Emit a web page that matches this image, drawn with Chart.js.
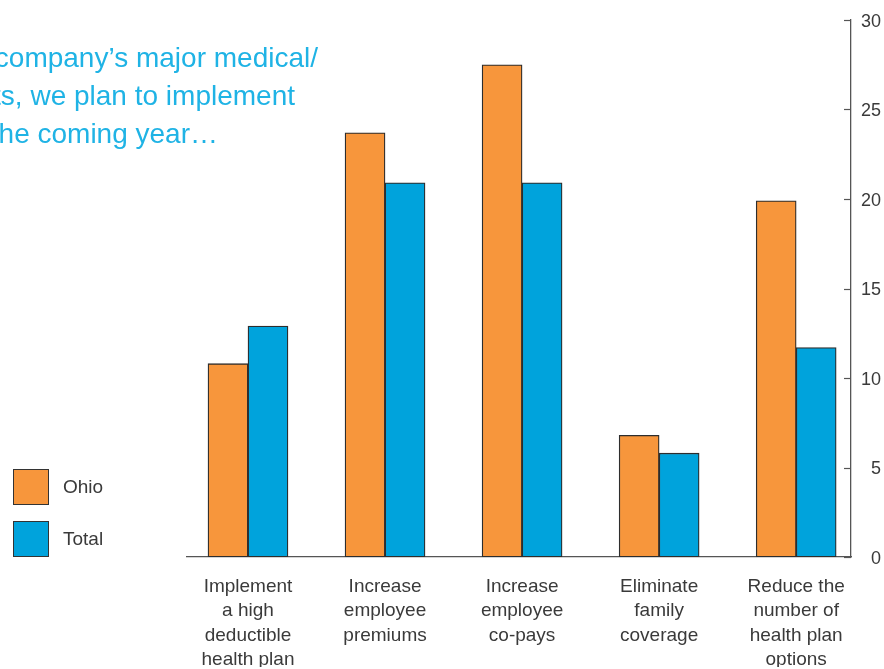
<!DOCTYPE html>
<html>
<head>
<meta charset="utf-8">
<script src="https://cdn.jsdelivr.net/npm/chart.js@4"></script>
<style>
  html, body { margin: 0; padding: 0; background: #fff; overflow: hidden; }
  #wrap { position: relative; width: 884px; height: 669px; }
  canvas { position: absolute; left: 0; top: 0; }
  .title-line {
    position: absolute; white-space: nowrap; text-align: right;
    font-family: "Liberation Sans", Arial, sans-serif; font-size: 28px;
    color: #1fb3e5; line-height: 38px;
  }
  .legend-item { position: absolute; left: 13px; height: 36px; }
  .legend-item .sw {
    position: absolute; left: 0; top: 0; width: 34px; height: 34px;
    border: 1.5px solid #333;
  }
  .legend-item .lbl {
    position: absolute; left: 50px; top: 0; line-height: 36px;
    font-family: "Liberation Sans", Arial, sans-serif; font-size: 19px; color: #3a3a3a;
  }
</style>
</head>
<body>
<div id="wrap">
  <canvas id="chart" width="884" height="669"></canvas>
  <div class="title-line" style="right: 566px; top: 39px;">As part of our company’s major medical/</div>
  <div class="title-line" style="right: 589px; top: 77px;">health plan benefits, we plan to implement</div>
  <div class="title-line" style="right: 666px; top: 115px;">the following in the coming year…</div>
  <div id="legend"></div>
</div>
<script>
// categories and series
const categories = [
  ['Implement', 'a high', 'deductible', 'health plan'],
  ['Increase', 'employee', 'premiums'],
  ['Increase', 'employee', 'co-pays'],
  ['Eliminate', 'family', 'coverage'],
  ['Reduce the', 'number of', 'health plan', 'options']
];
const ohio = [10.8, 23.7, 27.5, 6.8, 19.9];
const total = [12.9, 20.9, 20.9, 5.8, 11.7];
const seriesNames = ['Ohio', 'Total'];
const yTicks = [0, 5, 10, 15, 20, 25, 30];

const ORANGE = '#f7963c';
const BLUE = '#00a3dc';
const EDGE = '#2d2d2d';
const AXIS = '#555555';
const TEXT = '#3a3a3a';
const FONT = '"Liberation Sans", Arial, sans-serif';

// html legend
const legend = document.getElementById('legend');
[ORANGE, BLUE].forEach((c, i) => {
  const item = document.createElement('div');
  item.className = 'legend-item';
  item.style.top = (469 + i * 52) + 'px';
  item.innerHTML = '<div class="sw" style="background:' + c + '"></div><div class="lbl">' + seriesNames[i] + '</div>';
  legend.appendChild(item);
});

// short tick marks pointing into the plot from the right axis
const innerTicks = {
  id: 'innerTicks',
  afterDraw(chart) {
    const y = chart.scales.y;
    const ctx = chart.ctx;
    ctx.save();
    ctx.strokeStyle = AXIS;
    ctx.lineWidth = 1.2;
    y.ticks.forEach(t => {
      const py = Math.round(y.getPixelForValue(t.value)) + 0.5;
      ctx.beginPath();
      ctx.moveTo(y.left - 7, py);
      ctx.lineTo(y.left, py);
      ctx.stroke();
    });
    ctx.restore();
  }
};

new Chart(document.getElementById('chart'), {
  type: 'bar',
  data: {
    datasets: [
      {
        label: seriesNames[0],
        data: ohio.map((v, i) => ({ x: i, y: v })),
        backgroundColor: ORANGE,
        borderColor: EDGE,
        borderWidth: 1.3,
        borderSkipped: false,
        barThickness: 40
      },
      {
        label: seriesNames[1],
        data: total.map((v, i) => ({ x: i, y: v })),
        backgroundColor: BLUE,
        borderColor: EDGE,
        borderWidth: 1.3,
        borderSkipped: false,
        barThickness: 40
      }
    ]
  },
  options: {
    responsive: false,
    animation: false,
    layout: { padding: { left: 187, right: 3, top: 20, bottom: 2 } },
    plugins: {
      legend: { display: false },
      tooltip: { enabled: false }
    },
    scales: {
      x: {
        type: 'linear',
        offset: false,
        min: -0.445,
        max: 4.4,
        afterBuildTicks(scale) {
          scale.ticks = categories.map((_, i) => ({ value: i }));
        },
        afterFit(scale) { scale.height = 110; },
        grid: { display: false, drawTicks: false, offset: false },
        border: { display: true, color: AXIS, width: 1.3 },
        ticks: {
          autoSkip: false,
          maxRotation: 0,
          padding: 18,
          color: TEXT,
          font: { family: FONT, size: 19, lineHeight: 1.27 },
          callback(v) { return categories[v]; }
        }
      },
      y: {
        position: 'right',
        min: 0,
        max: 30,
        afterBuildTicks(scale) {
          scale.ticks = yTicks.map(v => ({ value: v }));
        },
        afterFit(scale) { scale.width = 30; },
        grid: { display: false, drawTicks: false },
        border: { display: true, color: AXIS, width: 1.3 },
        ticks: {
          padding: 8,
          crossAlign: 'far',
          labelOffset: 2,
          color: TEXT,
          font: { family: FONT, size: 18 }
        }
      }
    }
  },
  plugins: [innerTicks]
});
</script>
</body>
</html>
